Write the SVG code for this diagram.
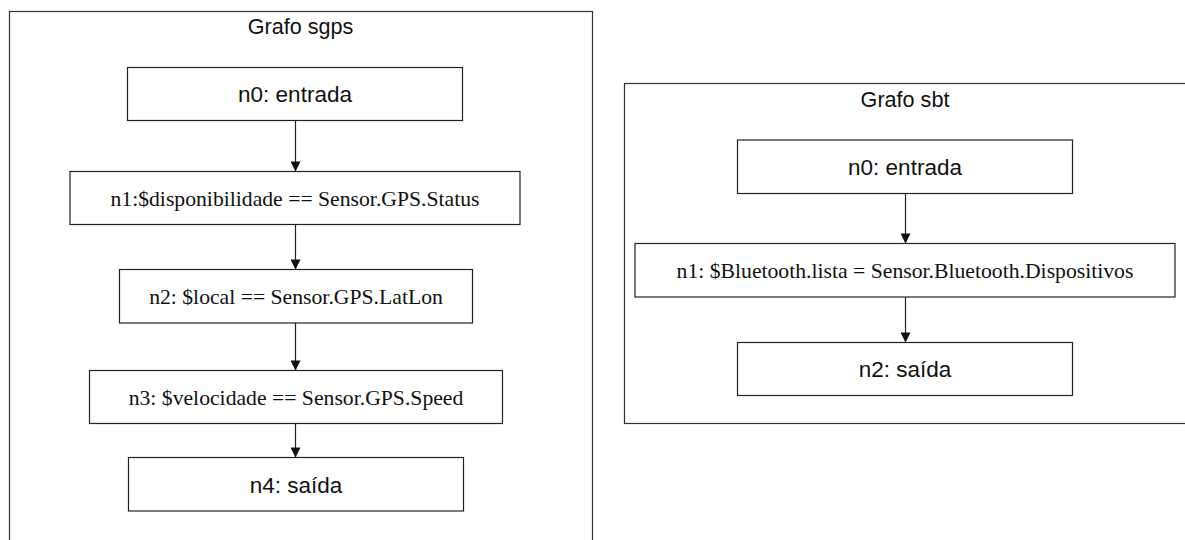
<svg xmlns="http://www.w3.org/2000/svg" width="1185" height="540" viewBox="0 0 1185 540">
  <style>
    .frame { fill: #ffffff; stroke: #333333; stroke-width: 1.2; }
    .node rect { fill: #ffffff; stroke: #222222; stroke-width: 1.2; }
    .title, .sans { font-family: "Liberation Sans", Arial, sans-serif; fill: #111111; text-anchor: middle; }
    .title { font-size: 21.6px; }
    .sans { font-size: 22.5px; }
    .serif { font-family: "Liberation Serif", "Times New Roman", serif; font-size: 21.7px; fill: #111111; text-anchor: middle; }
    .edge { stroke: #222222; stroke-width: 1.2; fill: none; marker-end: url(#arrow); }
  </style>
  <defs>
    <marker id="arrow" viewBox="0 0 10 10" refX="10" refY="5" markerWidth="11" markerHeight="10" markerUnits="userSpaceOnUse" orient="auto">
      <path d="M0,0 L10,5 L0,10 Z" fill="#111111"/>
    </marker>
  </defs>
  <rect width="1185" height="540" fill="#ffffff"/>

  <!-- Graph sgps -->
  <g id="sgps">
    <rect class="frame" x="9.5" y="11.5" width="583" height="600"/>
    <text class="title" x="300.5" y="34">Grafo sgps</text>
    <g id="sgps-n0" class="node">
      <rect x="127.5" y="67.5" width="335" height="53"/>
      <text class="sans" x="295" y="102">n0: entrada</text>
    </g>
    <g id="sgps-n1" class="node">
      <rect x="70" y="171.5" width="450" height="53"/>
      <text class="serif" x="295" y="205.5">n1:$disponibilidade == Sensor.GPS.Status</text>
    </g>
    <g id="sgps-n2" class="node">
      <rect x="119.5" y="269.5" width="353" height="53.5"/>
      <text class="serif" x="296" y="303.5">n2: $local == Sensor.GPS.LatLon</text>
    </g>
    <g id="sgps-n3" class="node">
      <rect x="89.5" y="370.5" width="413" height="53"/>
      <text class="serif" x="296" y="404.5">n3: $velocidade == Sensor.GPS.Speed</text>
    </g>
    <g id="sgps-n4" class="node">
      <rect x="128.5" y="457.5" width="335" height="53.5"/>
      <text class="sans" x="296" y="492.5">n4: saída</text>
    </g>
  </g>

  <!-- Graph sbt -->
  <g id="sbt">
    <rect class="frame" x="624.5" y="83.5" width="570" height="340"/>
    <text class="title" x="905" y="107">Grafo sbt</text>
    <g id="sbt-n0" class="node">
      <rect x="737.5" y="140" width="335" height="53.5"/>
      <text class="sans" x="905" y="175">n0: entrada</text>
    </g>
    <g id="sbt-n1" class="node">
      <rect x="635" y="243.5" width="540" height="53.5"/>
      <text class="serif" x="905" y="278">n1: $Bluetooth.lista = Sensor.Bluetooth.Dispositivos</text>
    </g>
    <g id="sbt-n2" class="node">
      <rect x="737.5" y="342.5" width="335" height="53"/>
      <text class="sans" x="905" y="377">n2: saída</text>
    </g>
  </g>

  <!-- Connectors -->
  <g id="connectors">
    <line class="edge" x1="295.5" y1="120.5" x2="295.5" y2="171.5"/>
    <line class="edge" x1="295.5" y1="224.5" x2="295.5" y2="269.5"/>
    <line class="edge" x1="295.5" y1="323" x2="295.5" y2="370.5"/>
    <line class="edge" x1="295.5" y1="423.5" x2="295.5" y2="457.5"/>
    <line class="edge" x1="905.5" y1="193.5" x2="905.5" y2="243.5"/>
    <line class="edge" x1="905.5" y1="297" x2="905.5" y2="342.5"/>
  </g>
</svg>
